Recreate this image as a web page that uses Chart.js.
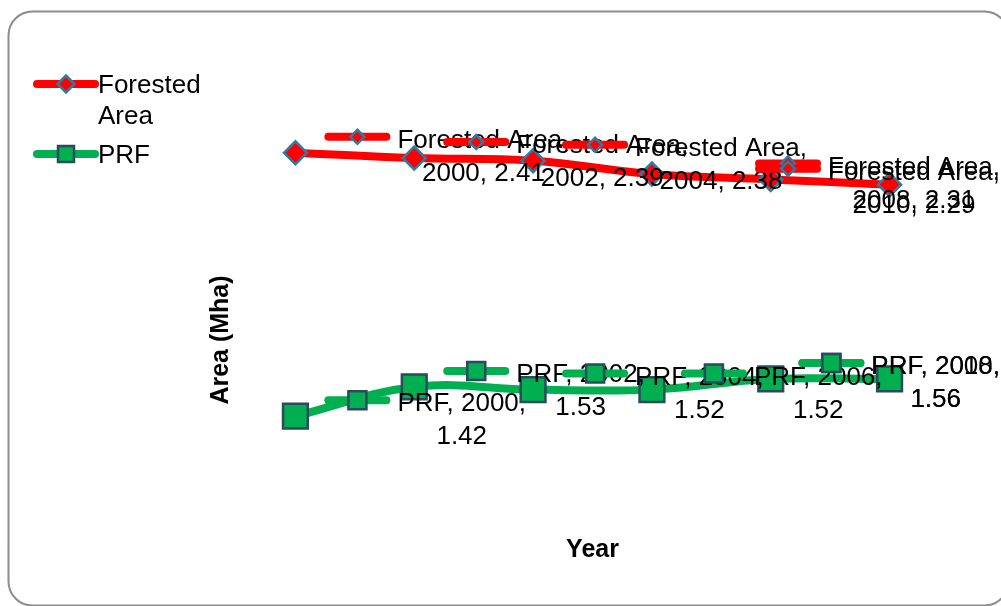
<!DOCTYPE html>
<html>
<head>
<meta charset="utf-8">
<script src="https://cdn.jsdelivr.net/npm/chart.js@4/dist/chart.umd.min.js"></script>
<style>
  html, body { margin: 0; padding: 0; background: #ffffff; overflow: hidden; }
  canvas { display: block; }
</style>
</head>
<body>
<canvas id="chart" width="1001" height="606"></canvas>
<script>
// Forest cover and permanent reserved forest, 2000-2010 (million hectares)
const years = ['2000', '2002', '2004', '2006', '2008', '2010'];
const forestedArea = [2.41, 2.39, 2.38, 2.33, 2.31, 2.29];
const prfArea = [1.42, 1.53, 1.52, 1.52, 1.56, 1.56];
const seriesNames = ['Forested Area', 'PRF'];
const unlabelledYears = { 'Forested Area': ['2006'], 'PRF': [] };
const xAxisTitle = 'Year';
const yAxisTitle = 'Area (Mha)';

const FONT = '"Liberation Sans", Arial, Helvetica, sans-serif';
const RED = '#ff0000';
const GREEN = '#00b050';
const DIAMOND_EDGE = '#2e7ba6';
const SQUARE_EDGE = '#284b5e';

const seriesStyle = {
  'Forested Area': { line: RED, fill: RED, edge: DIAMOND_EDGE, shape: 'diamond' },
  'PRF': { line: GREEN, fill: GREEN, edge: SQUARE_EDGE, shape: 'square' }
};

function drawMarker(ctx, style, x, y, half) {
  ctx.save();
  ctx.beginPath();
  if (style.shape === 'diamond') {
    ctx.moveTo(x - half, y);
    ctx.lineTo(x, y - half);
    ctx.lineTo(x + half, y);
    ctx.lineTo(x, y + half);
    ctx.closePath();
  } else {
    ctx.rect(x - half, y - half, half * 2, half * 2);
  }
  ctx.fillStyle = style.fill;
  ctx.fill();
  ctx.lineWidth = 2.5;
  ctx.strokeStyle = style.edge;
  ctx.lineJoin = 'miter';
  ctx.stroke();
  ctx.restore();
}

function drawKey(ctx, style, cx, cy, lineHalf, markerHalf) {
  ctx.save();
  ctx.beginPath();
  ctx.moveTo(cx - lineHalf, cy);
  ctx.lineTo(cx + lineHalf, cy);
  ctx.lineWidth = 8;
  ctx.lineCap = 'round';
  ctx.strokeStyle = style.line;
  ctx.stroke();
  ctx.restore();
  drawMarker(ctx, style, cx, cy, markerHalf);
}

function wrapWords(ctx, text, maxWidth) {
  const words = text.split(' ');
  const lines = [];
  let current = '';
  for (const w of words) {
    const trial = current ? current + ' ' + w : w;
    if (current && ctx.measureText(trial).width > maxWidth) {
      lines.push(current);
      current = w;
    } else {
      current = trial;
    }
  }
  if (current) lines.push(current);
  return lines;
}

// Rounded frame around the whole chart
const framePlugin = {
  id: 'frame',
  beforeDraw(chart) {
    const ctx = chart.ctx;
    ctx.save();
    ctx.fillStyle = '#ffffff';
    ctx.fillRect(0, 0, chart.width, chart.height);
    ctx.beginPath();
    ctx.roundRect(8.5, 11.5, 1000, 594, 24);
    ctx.lineWidth = 2;
    ctx.strokeStyle = '#8c8c8c';
    ctx.stroke();
    ctx.restore();
  }
};

// Data labels: legend key followed by "series, year, value"
const labelPlugin = {
  id: 'keyedLabels',
  afterDatasetsDraw(chart) {
    const ctx = chart.ctx;
    ctx.save();
    ctx.font = '26px ' + FONT;
    ctx.fillStyle = '#000000';
    ctx.textBaseline = 'middle';
    const rightLimit = chart.width - 1;
    chart.data.datasets.forEach((ds, di) => {
      const meta = chart.getDatasetMeta(di);
      const style = seriesStyle[ds.label];
      meta.data.forEach((pt, i) => {
        const year = chart.data.labels[i];
        if ((unlabelledYears[ds.label] || []).includes(year)) return;
        const text = ds.label + ', ' + year + ', ' + ds.data[i].toFixed(2);
        const lines = wrapWords(ctx, text, 180);
        const w1 = ctx.measureText(lines[0]).width;
        let left = pt.x + 102;
        if (left + w1 > rightLimit) left = rightLimit - w1;
        const centre = left + w1 / 2;
        const top = pt.y - 12;
        drawKey(ctx, style, left - 40, pt.y - 16, 29, style.shape === 'diamond' ? 7 : 9);
        ctx.textAlign = 'left';
        ctx.fillText(lines[0], left, top);
        ctx.textAlign = 'center';
        for (let k = 1; k < lines.length; k++) {
          ctx.fillText(lines[k], centre, top + 33 * k);
        }
      });
    });
    ctx.restore();
  }
};

// Legend block and axis titles
const legendTitlePlugin = {
  id: 'legendTitles',
  afterDraw(chart) {
    const ctx = chart.ctx;
    const area = chart.chartArea;
    ctx.save();
    // legend
    drawKey(ctx, seriesStyle['Forested Area'], 66, 84, 29, 8.5);
    drawKey(ctx, seriesStyle['PRF'], 66, 154, 29, 8);
    ctx.font = '26px ' + FONT;
    ctx.fillStyle = '#000000';
    ctx.textAlign = 'left';
    ctx.textBaseline = 'middle';
    const nameParts = seriesNames[0].split(' ');
    ctx.fillText(nameParts[0], 98, 86);
    ctx.fillText(nameParts.slice(1).join(' '), 98, 117);
    ctx.fillText(seriesNames[1], 98, 156);
    // axis titles
    ctx.font = 'bold 25px ' + FONT;
    ctx.textAlign = 'center';
    ctx.fillText(xAxisTitle, (area.left + area.right) / 2, 550);
    ctx.translate(221, 340);
    ctx.rotate(-Math.PI / 2);
    ctx.fillText(yAxisTitle, 0, 0);
    ctx.restore();
  }
};

new Chart(document.getElementById('chart'), {
  type: 'line',
  data: {
    labels: years,
    datasets: [
      {
        label: seriesNames[0],
        data: forestedArea,
        borderColor: RED,
        borderWidth: 8,
        borderCapStyle: 'round',
        tension: 0.4,
        pointStyle: 'rectRot',
        pointRadius: 11.5,
        pointBackgroundColor: RED,
        pointBorderColor: DIAMOND_EDGE,
        pointBorderWidth: 2.5,
        clip: false
      },
      {
        label: seriesNames[1],
        data: prfArea,
        borderColor: GREEN,
        borderWidth: 8,
        borderCapStyle: 'round',
        tension: 0.4,
        pointStyle: 'rect',
        pointRadius: 17.5,
        pointBackgroundColor: GREEN,
        pointBorderColor: SQUARE_EDGE,
        pointBorderWidth: 2.5,
        clip: false
      }
    ]
  },
  options: {
    responsive: false,
    animation: false,
    devicePixelRatio: 1,
    events: [],
    layout: { padding: { left: 236, right: 52, top: 49, bottom: 78 } },
    scales: {
      x: { type: 'category', display: false, offset: true },
      y: { type: 'linear', display: false, min: 1.0, max: 2.8 }
    },
    plugins: {
      legend: { display: false },
      tooltip: { enabled: false },
      title: { display: false }
    }
  },
  plugins: [framePlugin, labelPlugin, legendTitlePlugin]
});
</script>
</body>
</html>
